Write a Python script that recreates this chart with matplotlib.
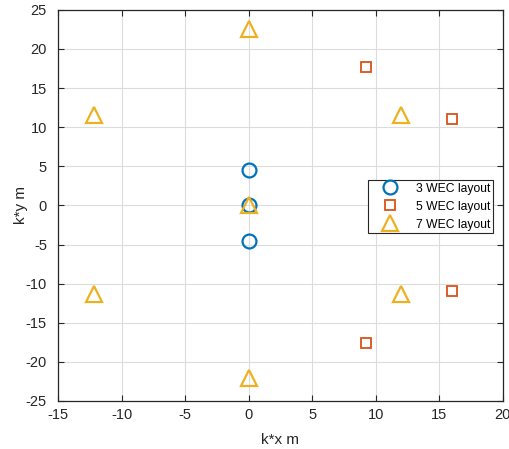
import numpy as np
import matplotlib
matplotlib.use('Agg')
import matplotlib.pyplot as plt

plt.rcParams['font.family'] = ['Liberation Sans', 'DejaVu Sans']
plt.rcParams['axes.unicode_minus'] = False

# layouts (k*x, k*y)
x3 = [0, 0, 0]
y3 = [4.5, 0, -4.5]

x5 = [9.2, 16.0, 16.0, 9.2]
y5 = [17.7, 11.1, -11.0, -17.6]

x7 = [0, 0, 12.0, 12.0, 0, -12.2, -12.2]
y7 = [0, 22.5, 11.6, -11.3, -22.1, -11.3, 11.6]

labels = ['3 WEC layout', '5 WEC layout', '7 WEC layout']

fig = plt.figure(figsize=(5.09, 4.49), dpi=100)
ax = fig.add_axes([0.114, 0.107, 0.874, 0.871])

ax.plot(x3, y3, 'o', ms=10, mfc='none', mec='#0072BD', mew=1.6, label=labels[0])
ax.plot(x5, y5, 's', ms=7.5, mfc='none', mec='#D95319', mew=1.3, label=labels[1])
ax.plot(x7, y7, '^', ms=11, mfc='none', mec='#EDB120', mew=1.6, label=labels[2])

ax.set_xlim(-15, 20)
ax.set_ylim(-25, 25)
ax.set_xticks(np.arange(-15, 21, 5))
ax.set_yticks(np.arange(-25, 26, 5))
ax.grid(True, color='#dcdcdc', lw=0.8)
ax.set_axisbelow(True)
ax.tick_params(direction='in', top=True, right=True, labelsize=10.5, length=4,
               colors='#262626', pad=5)
ax.tick_params(axis='y', pad=8)
for s in ax.spines.values():
    s.set_color('#262626')
    s.set_linewidth(0.9)

ax.set_xlabel('k*x m', fontsize=11, color='#262626', labelpad=8)
ax.set_ylabel('k*y m', fontsize=11, color='#262626', labelpad=-1.5)

leg = ax.legend(loc='center right', bbox_to_anchor=(0.978, 0.497), borderaxespad=0,
                fontsize=8.7, fancybox=False, framealpha=1, edgecolor='#262626',
                handlelength=3.3, handletextpad=0.5, labelspacing=0.5, borderpad=0.2)
leg.get_frame().set_linewidth(0.8)

plt.savefig('out.png', dpi=100)
plt.close('all')
